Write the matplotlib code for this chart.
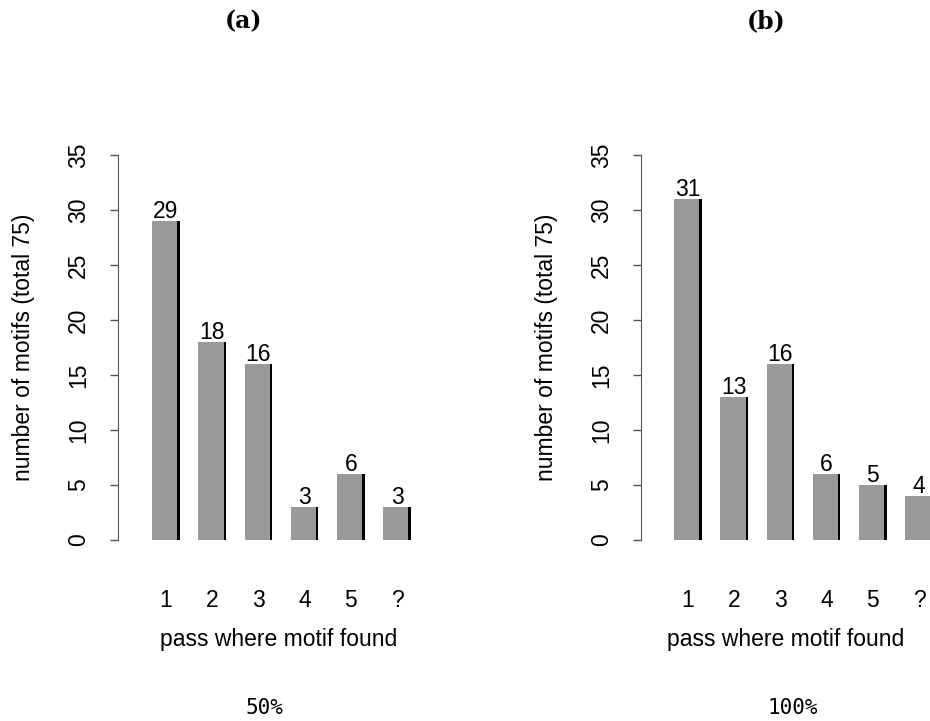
import matplotlib
matplotlib.use("Agg")
import matplotlib.pyplot as plt

categories = ["1", "2", "3", "4", "5", "?"]
values_a = [29, 18, 16, 3, 6, 3]
values_b = [31, 13, 16, 6, 5, 4]
panel_titles = ["(a)", "(b)"]
panel_captions = ["50%", "100%"]
xlabel = "pass where motif found"
ylabel = "number of motifs (total 75)"
yticks = [0, 5, 10, 15, 20, 25, 30, 35]

W, H = 930, 721
fig = plt.figure(figsize=(W / 100, H / 100), dpi=100)
plt.rcParams['font.family'] = ['Liberation Sans', 'DejaVu Sans']

GRAY = "#999999"
step_px = 46.2
bar_w = 0.6
edge = 0.055
FS = 16.5

def make_panel(left_px, right_px, first_center_px, values, title, caption, cx_title, cx_caption):
    top_px, bot_px = 155, 540
    ax = fig.add_axes([left_px / W, 1 - bot_px / H, (right_px - left_px) / W, (bot_px - top_px) / H])
    xl = -(first_center_px - left_px) / step_px
    xr = (right_px - first_center_px) / step_px
    ax.set_xlim(xl, xr)
    ax.set_ylim(0, 35)
    xs = list(range(len(values)))
    ax.bar(xs, values, width=bar_w, color="black", align="center", linewidth=0)
    ax.bar([x - edge / 2 for x in xs], values, width=bar_w - edge, color=GRAY, linewidth=0)
    for x, v in zip(xs, values):
        ax.text(x, v - 0.15, str(v), ha="center", va="bottom", fontsize=FS, clip_on=False)
    for s in ["top", "right", "bottom"]:
        ax.spines[s].set_visible(False)
    ax.spines["left"].set_bounds(0, 35)
    ax.spines["left"].set_color("#555555")
    ax.set_yticks(yticks)
    ax.set_yticklabels([str(t) for t in yticks], rotation=90, va="center", fontsize=FS)
    ax.tick_params(axis="y", length=6, width=1, color="#555555", pad=14)
    ax.set_xticks(xs)
    ax.set_xticklabels(categories, fontsize=FS)
    ax.tick_params(axis="x", length=0, pad=35)
    ax.set_xlabel(xlabel, fontsize=FS, labelpad=12)
    ax.set_ylabel(ylabel, fontsize=FS, labelpad=23)
    fig.text(cx_title / W, 1 - 21 / H, title, ha="center", va="center",
             fontsize=17, fontweight="bold", family="DejaVu Serif")
    fig.text(cx_caption / W, 1 - 708 / H, caption, ha="center", va="center",
             fontsize=15, family="DejaVu Sans Mono")
    return ax

make_panel(118, 440, 166, values_a, panel_titles[0], panel_captions[0], 243, 264)
make_panel(641, 930, 688, values_b, panel_titles[1], panel_captions[1], 766, 793)

fig.savefig("out.png", dpi=100)
